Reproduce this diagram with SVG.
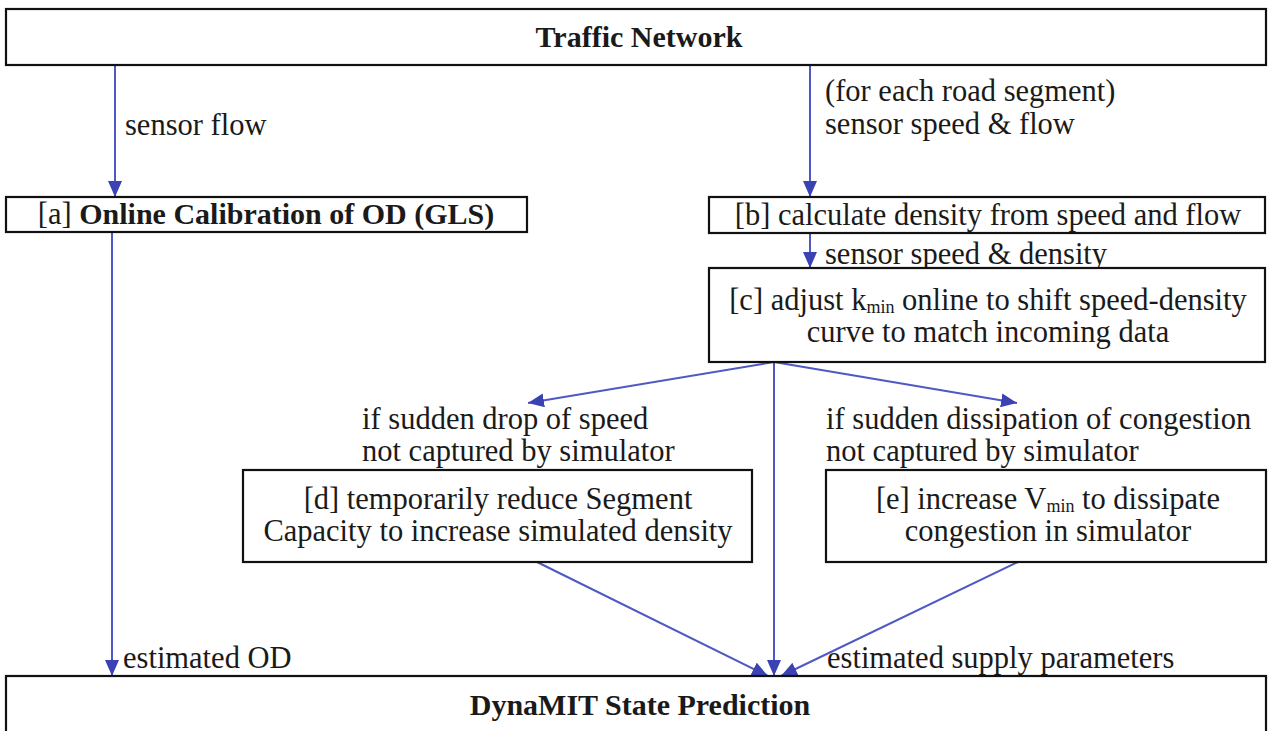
<svg xmlns="http://www.w3.org/2000/svg" width="1272" height="731" viewBox="0 0 1272 731">
<defs>
<style>
.box{fill:#fff;stroke:#111;stroke-width:2.2}
.t{font-family:"Liberation Serif","Times New Roman",serif;font-size:30.5px;fill:#1a1a1a}
.b{font-weight:bold;font-size:30px}
.m{text-anchor:middle}
.sub{font-size:18px}
.c{stroke:#4f58c4;stroke-width:2;fill:none}
</style>
<marker id="ah" viewBox="0 0 16 14" refX="16" refY="7" markerWidth="16" markerHeight="14" markerUnits="userSpaceOnUse" orient="auto">
<path d="M0,0 L16,7 L0,14 Z" fill="#3b42b4"/>
</marker>
</defs>
<rect width="1272" height="731" fill="#fff"/>
<g id="connectors">
<line class="c" x1="115" y1="65" x2="115" y2="197" marker-end="url(#ah)"/>
<line class="c" x1="810" y1="65" x2="810" y2="197" marker-end="url(#ah)"/>
<line class="c" x1="810" y1="233" x2="810" y2="268" marker-end="url(#ah)"/>
<line class="c" x1="112" y1="232" x2="112" y2="676" marker-end="url(#ah)"/>
<line class="c" x1="774" y1="362" x2="528" y2="403" marker-end="url(#ah)"/>
<line class="c" x1="774" y1="362" x2="1017" y2="403" marker-end="url(#ah)"/>
<line class="c" x1="774" y1="362" x2="774" y2="676" marker-end="url(#ah)"/>
<line class="c" x1="537" y1="562" x2="768" y2="676" marker-end="url(#ah)"/>
<line class="c" x1="1018" y1="562" x2="781" y2="676" marker-end="url(#ah)"/>
</g>
<g id="labels">
<text class="t" x="125" y="135">sensor flow</text>
<text class="t" x="825" y="101">(for each road segment)</text>
<text class="t" x="825" y="134">sensor speed &amp; flow</text>
<text class="t" x="825" y="264">sensor speed &amp; density</text>
<text class="t" x="362" y="429">if sudden drop of speed</text>
<text class="t" x="362" y="461">not captured by simulator</text>
<text class="t" x="826" y="429">if sudden dissipation of congestion</text>
<text class="t" x="826" y="461">not captured by simulator</text>
<text class="t" x="123" y="668">estimated OD</text>
<text class="t" x="827" y="668">estimated supply parameters</text>
</g>
<g id="traffic-network">
<rect class="box" x="6" y="9" width="1260" height="56"/>
<text class="t b m" x="639" y="47">Traffic Network</text>
</g>
<g id="node-a">
<rect class="box" x="6" y="197" width="521" height="35"/>
<text class="t m" x="266" y="224">[a] <tspan class="b">Online Calibration of OD (GLS)</tspan></text>
</g>
<g id="node-b">
<rect class="box" x="709" y="197" width="556" height="36"/>
<text class="t m" x="988" y="225">[b] calculate density from speed and flow</text>
</g>
<g id="node-c">
<rect class="box" x="709" y="268" width="556" height="94"/>
<text class="t m" x="988" y="310">[c] adjust k<tspan class="sub" dy="3">min</tspan><tspan dy="-3"> online to shift speed-density</tspan></text>
<text class="t m" x="988" y="342">curve to match incoming data</text>
</g>
<g id="node-d">
<rect class="box" x="243" y="470" width="509" height="92"/>
<text class="t m" x="498" y="509">[d] temporarily reduce Segment</text>
<text class="t m" x="498" y="541">Capacity to increase simulated density</text>
</g>
<g id="node-e">
<rect class="box" x="826" y="470" width="440" height="92"/>
<text class="t m" x="1048" y="509">[e] increase V<tspan class="sub" dy="3">min</tspan><tspan dy="-3"> to dissipate</tspan></text>
<text class="t m" x="1048" y="541">congestion in simulator</text>
</g>
<g id="dynamit">
<rect class="box" x="6" y="676" width="1260" height="70"/>
<text class="t b m" x="640" y="715">DynaMIT State Prediction</text>
</g>
</svg>
